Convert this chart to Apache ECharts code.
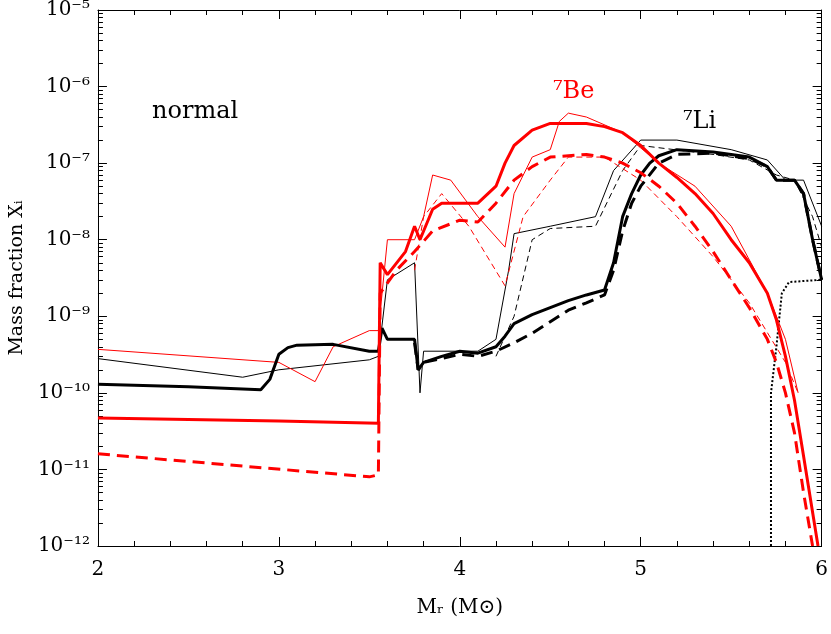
<!DOCTYPE html><html><head><meta charset="utf-8">
<script src="https://cdn.jsdelivr.net/npm/echarts@6/dist/echarts.min.js"></script>
<style>html,body{margin:0;padding:0;background:#fff}#c{width:831px;height:634px}</style></head><body><div id="c"></div>
<script>
const xTicks=[2,3,4,5,6];
const liThick=[[2,1.3e-10],[2.5,1.2e-10],[2.9,1.1e-10],[2.95,1.5e-10],[3.0,3.2e-10],[3.05,3.9e-10],[3.1,4.2e-10],[3.3,4.3e-10],[3.5,3.5e-10],[3.55,3.5e-10],[3.57,7e-10],[3.6,5e-10],[3.75,5e-10],[3.77,2e-10],[3.8,2.5e-10],[3.9,3e-10],[4.0,3.5e-10],[4.1,3.3e-10],[4.2,4e-10],[4.25,5.5e-10],[4.3,8e-10],[4.4,1.05e-9],[4.5,1.3e-9],[4.6,1.6e-9],[4.7,1.9e-9],[4.8,2.2e-9],[4.85,5e-9],[4.9,2e-8],[4.95,4e-8],[5.0,7e-8],[5.05,1e-7],[5.1,1.25e-7],[5.2,1.5e-7],[5.4,1.4e-7],[5.6,1.2e-7],[5.7,9e-8],[5.75,6e-8],[5.85,6e-8],[5.9,4e-8],[5.95,1e-8],[6.0,3e-9]];
const liThickDash=[[3.75,4.5e-10],[3.77,2e-10],[3.8,2.5e-10],[3.9,2.8e-10],[4.0,3.2e-10],[4.1,3e-10],[4.2,3.5e-10],[4.3,4.5e-10],[4.4,6e-10],[4.5,8.5e-10],[4.6,1.2e-9],[4.7,1.5e-9],[4.8,1.9e-9],[4.85,4e-9],[4.9,1.3e-8],[4.95,3e-8],[5.0,5e-8],[5.1,1e-7],[5.2,1.3e-7],[5.4,1.35e-7],[5.6,1.15e-7],[5.7,9e-8],[5.75,6e-8],[5.85,6e-8],[5.9,4e-8],[5.95,1e-8],[6.0,3e-9]];
const liThin=[[2,2.8e-10],[2.8,1.6e-10],[3.0,2e-10],[3.5,2.7e-10],[3.55,3e-10],[3.6,3e-9],[3.75,5e-9],[3.78,1e-10],[3.8,3.5e-10],[4.1,3.5e-10],[4.2,5e-10],[4.27,4e-9],[4.3,1.2e-8],[4.5,1.5e-8],[4.75,2e-8],[4.85,8e-8],[5.0,2e-7],[5.2,2e-7],[5.5,1.5e-7],[5.7,1.1e-7],[5.8,6e-8],[5.9,6e-8],[6.0,1.5e-8]];
const liThinDash=[[4.2,3e-10],[4.3,1e-9],[4.4,1e-8],[4.5,1.4e-8],[4.75,1.5e-8],[4.9,8e-8],[5.0,1.7e-7],[5.4,1.3e-7],[5.6,1.1e-7],[5.75,7e-8],[5.85,6e-8],[5.95,2e-8],[6.0,8e-9]];
const liDot=[[5.72,1e-12],[5.72,1e-10],[5.75,4e-10],[5.78,2e-9],[5.82,2.8e-9],[6.0,3e-9]];
const beThick=[[2,4.7e-11],[3.0,4.3e-11],[3.55,4e-11],[3.56,5e-9],[3.6,3.5e-9],[3.7,7e-9],[3.75,1.5e-8],[3.78,1e-8],[3.85,2.5e-8],[3.9,3e-8],[4.1,3e-8],[4.2,5e-8],[4.25,1e-7],[4.3,1.7e-7],[4.4,2.7e-7],[4.5,3.3e-7],[4.7,3.3e-7],[4.8,3e-7],[4.9,2.5e-7],[5.0,1.7e-7],[5.1,1e-7],[5.2,6.5e-8],[5.3,4e-8],[5.4,2.2e-8],[5.5,1e-8],[5.6,5e-9],[5.7,2e-9],[5.75,9e-10],[5.8,3e-10],[5.85,8e-11],[5.9,1.5e-11],[5.98,1e-12]];
const beThickDash=[[2,1.6e-11],[3.5,8e-12],[3.55,8.5e-12],[3.56,2e-9],[3.65,4e-9],[3.75,7e-9],[3.85,1.3e-8],[4.0,1.8e-8],[4.1,1.7e-8],[4.2,3e-8],[4.3,6e-8],[4.4,9e-8],[4.5,1.2e-7],[4.7,1.3e-7],[4.8,1.2e-7],[4.9,1e-7],[5.0,7.5e-8],[5.1,5e-8],[5.2,3e-8],[5.3,1.5e-8],[5.4,7e-9],[5.5,3e-9],[5.6,1.3e-9],[5.7,5e-10],[5.75,2.5e-10],[5.8,1e-10],[5.85,3e-11],[5.9,5e-12],[5.95,1e-12]];
const beThin=[[2,3.7e-10],[3.0,2.5e-10],[3.2,1.4e-10],[3.3,4e-10],[3.5,6.5e-10],[3.55,6.5e-10],[3.6,1e-8],[3.75,1e-8],[3.8,2e-8],[3.85,7e-8],[3.95,6e-8],[4.1,2e-8],[4.25,8e-9],[4.3,4e-8],[4.4,1.2e-7],[4.5,1.5e-7],[4.55,3.5e-7],[4.6,4.5e-7],[4.7,4e-7],[4.9,2.5e-7],[5.1,1e-7],[5.3,5e-8],[5.5,1.5e-8],[5.7,2e-9],[5.8,5e-10],[5.87,1e-10]];
const beThinDash=[[3.75,4e-9],[3.8,2e-8],[3.9,4e-8],[4.05,1.5e-8],[4.25,2.5e-9],[4.35,2e-8],[4.5,6e-8],[4.6,1.2e-7],[4.8,1.2e-7],[5.0,6e-8],[5.2,2e-8],[5.4,6e-9],[5.6,1.5e-9],[5.8,2.5e-10],[5.87,1e-10]];
const yTickExp=[-12,-11,-10,-9,-8,-7,-6,-5];
const F='DejaVu Serif';
const sup={'-':'⁻','0':'⁰','1':'¹','2':'²','3':'³','4':'⁴','5':'⁵','6':'⁶','7':'⁷','8':'⁸','9':'⁹'};
function ln(d,c,w,t){return {type:'line',data:d,showSymbol:false,symbol:'none',lineStyle:{color:c,width:w,type:t||'solid'},z:t==='dotted'?1:2,clip:true};}
const ch=echarts.init(document.getElementById('c'));
const ax={axisLine:{lineStyle:{color:'#000',width:1}},axisTick:{inside:true,length:9,lineStyle:{color:'#000'}},minorTick:{show:true,length:5,splitNumber:5,lineStyle:{color:'#000'}},splitLine:{show:false}};
ch.setOption({animation:false,
grid:{left:67,right:8,top:8,bottom:88},
xAxis:[Object.assign({type:'value',min:2,max:6,interval:1,position:'bottom',axisLabel:{fontFamily:F,fontSize:20,color:'#000',margin:14,formatter:v=>xTicks.includes(v)?String(v):''},name:'M\u1D63 (M\u2299)',nameLocation:'middle',nameGap:52,nameTextStyle:{fontFamily:F,fontSize:20,color:'#000'}},ax),
 Object.assign({type:'value',min:2,max:6,interval:1,position:'top',axisLabel:{show:false}},ax)],
yAxis:[Object.assign({type:'log',min:1e-12,max:1e-5,logBase:10,position:'left',axisLabel:{fontFamily:F,fontSize:20,color:'#000',margin:8,formatter:v=>{const e=Math.round(Math.log10(v));return '10'+String(e).split('').map(c=>sup[c]).join('');}},name:'Mass fraction X\u1D62',nameLocation:'middle',nameGap:50,nameTextStyle:{fontFamily:F,fontSize:19,color:'#000'},minorTick:{show:true,length:5,splitNumber:9,lineStyle:{color:'#000'}}},{axisLine:ax.axisLine,axisTick:ax.axisTick,splitLine:ax.splitLine}),
 {type:'log',min:1e-12,max:1e-5,position:'right',axisLine:ax.axisLine,axisTick:ax.axisTick,minorTick:{show:true,length:5,splitNumber:9,lineStyle:{color:'#000'}},splitLine:{show:false},axisLabel:{show:false}}],
graphic:[
 {type:'text',left:152,top:100,style:{text:'normal',font:'24px "DejaVu Serif"',fill:'#000'}},
 {type:'text',left:553,top:80,style:{text:'⁷Be',font:'24px "DejaVu Serif"',fill:'#ff0000'}},
 {type:'text',left:683,top:110,style:{text:'⁷Li',font:'24px "DejaVu Serif"',fill:'#000'}}],
series:[ln(liDot,'#000',2,'dotted'),ln(liThin,'#000',1),ln(liThinDash,'#000',1,[6,4]),ln(beThin,'#ff0000',1),ln(beThinDash,'#ff0000',1,[6,4]),
 ln(liThick,'#000',3),ln(liThickDash,'#000',3,[12,7]),ln(beThick,'#ff0000',3),ln(beThickDash,'#ff0000',3,[12,7])]
});
</script></body></html>
